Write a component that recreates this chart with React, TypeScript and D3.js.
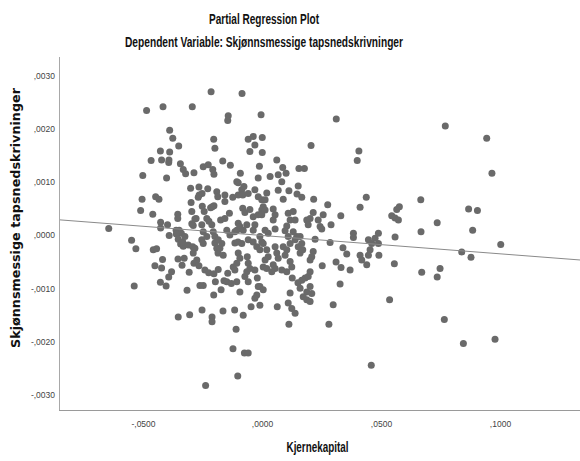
import React from "react";
import * as d3 from "d3";

// Partial regression residuals: Kjernekapital (x) vs Skjønnsmessige tapsnedskrivninger (y)
const kjernekapital: number[] = [
  -0.0646, -0.0550, -0.0532, -0.0539, -0.0512, -0.0506, -0.0503, -0.0487, -0.0468, -0.0461,
  -0.0459, -0.0445, -0.0452, -0.0449, -0.0435, -0.0429, -0.0424, -0.0428, -0.0428, -0.0420,
  -0.0424, -0.0429, -0.0418, -0.0405, -0.0403, -0.0399, -0.0394, -0.0392, -0.0390, -0.0390,
  -0.0393, -0.0394, -0.0382, -0.0377, -0.0363, -0.0350, -0.0341, -0.0362, -0.0356, -0.0356,
  -0.0354, -0.0352, -0.0345, -0.0355, -0.0329, -0.0338, -0.0354, -0.0344, -0.0333, -0.0333,
  -0.0323, -0.0335, -0.0326, -0.0312, -0.0317, -0.0308, -0.0306, -0.0302, -0.0300, -0.0297,
  -0.0297, -0.0295, -0.0293, -0.0284, -0.0291, -0.0276, -0.0288, -0.0288, -0.0284, -0.0291,
  -0.0279, -0.0267, -0.0266, -0.0254, -0.0270, -0.0267, -0.0263, -0.0249, -0.0254, -0.0255,
  -0.0249, -0.0255, -0.0249, -0.0253, -0.0245, -0.0249, -0.0228, -0.0230, -0.0242, -0.0226,
  -0.0239, -0.0234, -0.0225, -0.0234, -0.0218, -0.0216, -0.0213, -0.0209, -0.0204, -0.0211,
  -0.0204, -0.0212, -0.0212, -0.0205, -0.0200, -0.0205, -0.0207, -0.0200, -0.0204, -0.0198,
  -0.0200, -0.0192, -0.0187, -0.0186, -0.0192, -0.0188, -0.0186, -0.0176, -0.0171, -0.0179,
  -0.0165, -0.0174, -0.0167, -0.0166, -0.0162, -0.0150, -0.0158, -0.0158, -0.0158, -0.0146,
  -0.0144, -0.0146, -0.0139, -0.0137, -0.0131, -0.0135, -0.0125, -0.0123, -0.0124, -0.0116,
  -0.0116, -0.0117, -0.0108, -0.0111, -0.0108, -0.0108, -0.0102, -0.0104, -0.0102, -0.0108,
  -0.0116, -0.0103, -0.0102, -0.0102, -0.0095, -0.0095, -0.0095, -0.0093, -0.0087, -0.0087,
  -0.0086, -0.0083, -0.0078, -0.0081, -0.0083, -0.0081, -0.0076, -0.0060, -0.0074, -0.0074,
  -0.0066, -0.0066, -0.0064, -0.0060, -0.0053, -0.0060, -0.0060, -0.0060, -0.0060, -0.0053,
  -0.0053, -0.0039, -0.0039, -0.0032, -0.0032, -0.0048, -0.0039, -0.0039, -0.0032, -0.0032,
  -0.0024, -0.0022, -0.0018, -0.0024, -0.0032, -0.0011, -0.0018, -0.0018, -0.0013, -0.0018,
  -0.0011, -0.0003, -0.0003, 0.0003, -0.0003, -0.0001, -0.0001, -0.0006, 0.0011, 0.0024,
  -0.0011, 0.0003, 0.0018, 0.0024, 0.0011, 0.0003, 0.0018, -0.0011, 0.0003, 0.0018,
  0.0011, 0.0011, -0.0003, 0.0032, 0.0045, 0.0053, 0.0045, 0.0053, 0.0053, 0.0060,
  0.0066, 0.0045, 0.0053, 0.0039, 0.0060, 0.0062, 0.0066, 0.0066, 0.0081, 0.0085,
  0.0099, 0.0087, 0.0087, 0.0102, 0.0116, 0.0095, 0.0116, 0.0123, 0.0102, 0.0081,
  0.0102, 0.0095, 0.0108, 0.0108, 0.0129, 0.0116, 0.0137, 0.0111, 0.0125, 0.0116,
  0.0108, 0.0123, 0.0137, 0.0111, 0.0129, 0.0144, 0.0137, 0.0150, 0.0145, 0.0165,
  0.0153, 0.0176, 0.0150, 0.0158, 0.0169, 0.0158, 0.0165, 0.0165, 0.0149, 0.0158,
  0.0179, 0.0192, 0.0200, 0.0186, 0.0200, 0.0207, 0.0171, 0.0186, 0.0200, 0.0186,
  0.0200, 0.0192, 0.0213, 0.0234, 0.0242, 0.0255, 0.0249, 0.0204, 0.0215, 0.0213,
  0.0207, 0.0200, 0.0221, 0.0251, 0.0274, 0.0288, 0.0284, 0.0279, 0.0297, 0.0309,
  0.0330, 0.0310, 0.0329, 0.0326, 0.0338, 0.0354, 0.0368, 0.0382, 0.0382, 0.0398,
  0.0405, 0.0410, 0.0436, 0.0410, 0.0417, 0.0438, 0.0445, 0.0459, 0.0473, 0.0487,
  0.0487, 0.0452, 0.0445, 0.0489, 0.0457, 0.0534, 0.0543, 0.0557, 0.0571, 0.0575,
  0.0564, 0.0557, 0.0554, 0.0665, 0.0666, 0.0669, 0.0734, 0.0746, 0.0734, 0.0764,
  0.0768, 0.0837, 0.0844, 0.0866, 0.0903, 0.0883, 0.0876, 0.0942, 0.0964, 0.0977, 0.1001, -0.0150,
];

const tapsnedskrivninger: number[] = [
  0.00013, -0.00009, -0.00025, -0.00095, 0.00047, 0.00068, 0.00113, 0.00235, 0.00141, 0.00040,
  -0.00027, -0.00025, -0.00057, 0.00073, 0.00068, 0.00159, 0.00142, 0.00025, 0.00014, -0.00045,
  -0.00061, -0.00088, 0.00242, -0.00095, 0.00108, 0.00020, -0.00078, 0.00000, 0.00198, 0.00157,
  0.00142, 0.00137, -0.00068, 0.00183, 0.00010, 0.00010, 0.00004, 0.00003, 0.00040, 0.00032,
  -0.00007, 0.00168, 0.00135, -0.00044, -0.00043, -0.00056, -0.00153, -0.00016, -0.00020, 0.00124,
  0.00116, -0.00012, -0.00002, -0.00018, -0.00103, -0.00069, -0.00149, 0.00089, 0.00062, 0.00045,
  0.00022, 0.00242, -0.00021, -0.00024, -0.00033, -0.00046, -0.00052, 0.00118, 0.00031, 0.00019,
  0.00032, 0.00091, 0.00076, 0.00079, 0.00072, -0.00057, -0.00094, -0.00094, -0.00140, 0.00020,
  0.00007, -0.00008, -0.00015, 0.00055, 0.00045, 0.00129, 0.00133, 0.00088, -0.00065, -0.00070,
  -0.00282, 0.00032, 0.00027, -0.00002, 0.00052, 0.00270, 0.00020, 0.00124, 0.00115, 0.00054,
  0.00056, -0.00153, -0.00162, 0.00181, 0.00164, -0.00112, 0.00007, -0.00002, -0.00072, -0.00087,
  -0.00014, -0.00024, -0.00033, -0.00008, 0.00082, 0.00073, -0.00064, 0.00029, -0.00015, -0.00024,
  -0.00037, -0.00102, 0.00140, -0.00142, -0.00085, -0.00087, 0.00076, 0.00064, 0.00032, -0.00071,
  0.00225, 0.00216, 0.00042, 0.00001, -0.00090, 0.00132, 0.00072, -0.00059, -0.00213, 0.00007,
  -0.00065, -0.00140, -0.00052, -0.00176, -0.00087, 0.00101, 0.00099, -0.00264, 0.00023, 0.00010,
  -0.00014, -0.00012, 0.00076, -0.00033, -0.00043, 0.00017, -0.00106, 0.00117, 0.00086, -0.00015,
  0.00267, 0.00076, 0.00092, 0.00010, 0.00051, -0.00150, -0.00221, -0.00221, 0.00043, -0.00077,
  0.00020, -0.00068, -0.00040, -0.00052, -0.00062, -0.00087, -0.00008, 0.00079, 0.00181, 0.00158,
  0.00049, 0.00035, 0.00186, 0.00170, 0.00086, -0.00134, -0.00012, 0.00010, 0.00020, -0.00065,
  -0.00021, -0.00080, -0.00096, -0.00112, -0.00118, -0.00131, 0.00108, 0.00073, 0.00130, 0.00039,
  -0.00027, -0.00012, 0.00067, 0.00054, 0.00048, 0.00184, 0.00156, 0.00227, 0.00010, 0.00004,
  -0.00002, -0.00015, -0.00027, -0.00040, -0.00046, -0.00059, -0.00062, -0.00096, -0.00102, 0.00080,
  0.00067, 0.00048, 0.00039, 0.00111, 0.00050, 0.00039, 0.00029, 0.00012, -0.00021, -0.00033,
  -0.00043, -0.00055, -0.00062, -0.00068, 0.00142, -0.00134, 0.00114, 0.00085, 0.00101, 0.00128,
  0.00117, 0.00068, -0.00021, -0.00027, -0.00015, -0.00037, -0.00049, -0.00059, -0.00068, -0.00065,
  0.00018, 0.00009, -0.00002, 0.00042, 0.00045, 0.00029, 0.00029, 0.00084, -0.00080, -0.00108,
  -0.00127, -0.00137, -0.00146, -0.00167, 0.00007, -0.00002, -0.00008, 0.00093, 0.00078, 0.00072,
  0.00126, 0.00126, -0.00021, -0.00033, -0.00027, -0.00002, -0.00015, -0.00084, -0.00089, -0.00099,
  -0.00080, -0.00077, -0.00068, -0.00106, -0.00096, -0.00109, -0.00115, -0.00121, -0.00124, 0.00029,
  0.00032, 0.00020, 0.00043, 0.00029, 0.00017, 0.00039, 0.00012, 0.00169, 0.00068, -0.00030,
  -0.00040, -0.00046, -0.00007, -0.00057, 0.00058, 0.00020, -0.00013, -0.00167, -0.00130, -0.00050,
  -0.00060, 0.00219, 0.00037, -0.00091, -0.00023, -0.00035, -0.00065, 0.00004, -0.00004, 0.00141,
  0.00159, 0.00053, 0.00072, -0.00037, -0.00046, -0.00055, -0.00008, -0.00015, -0.00005, 0.00004,
  -0.00015, -0.00027, -0.00037, -0.00037, -0.00244, -0.00121, 0.00037, 0.00033, 0.00029, 0.00054,
  0.00049, -0.00003, -0.00053, 0.00067, 0.00007, -0.00069, 0.00024, -0.00062, -0.00078, -0.00158,
  0.00206, -0.00031, -0.00203, 0.00050, 0.00047, 0.00010, -0.00041, 0.00183, 0.00117, -0.00195, -0.00017, 0.00010,
];

const xTicks = [-0.05, 0, 0.05, 0.1];
const yTicks = [-0.003, -0.002, -0.001, 0, 0.001, 0.002, 0.003];

// Fitted partial regression line (residuals are centred, so it passes through the origin)
const fitSlope = -0.00345;
const fitIntercept = 0;

const xDomain: [number, number] = [-0.0855, 0.1334];
const yDomain: [number, number] = [-0.00328, 0.003355];

const W = 580;
const H = 461;
const frame = { left: 59, right: 580, top: 57, bottom: 410 };

// SPSS-style number labels: ",0030", "-,0010"
const spssFormat = (v: number) => {
  const body = d3.format(".4f")(Math.abs(v)).replace(/^0\./, ",");
  return (v < -1e-12 ? "-" : "") + body;
};

const titleFont = "'Liberation Sans Narrow', 'Liberation Sans', Arial, sans-serif";
const tickFont = "'Liberation Sans', Arial, sans-serif";

export default function App() {
  const x = d3.scaleLinear().domain(xDomain).range([frame.left, frame.right]);
  const y = d3.scaleLinear().domain(yDomain).range([frame.bottom, frame.top]);

  const points = kjernekapital.map((kx, i) => ({ kx, ty: tapsnedskrivninger[i] }));

  const fitLine = d3
    .line<number>()
    .x((d) => x(d))
    .y((d) => y(fitIntercept + fitSlope * d));

  return (
    <svg
      width={W}
      height={H}
      viewBox={`0 0 ${W} ${H}`}
      style={{ position: "absolute", left: 0, top: 0, background: "#fff" }}
    >
      <rect x={0} y={0} width={W} height={H} fill="#fff" />

      {/* titles */}
      <text
        x={264}
        y={24}
        textAnchor="middle"
        fontFamily={titleFont}
        fontWeight="bold"
        fontSize={14.5}
        fill="#111"
        textLength={110}
        lengthAdjust="spacingAndGlyphs"
      >
        Partial Regression Plot
      </text>
      <text
        x={264}
        y={47}
        textAnchor="middle"
        fontFamily={titleFont}
        fontWeight="bold"
        fontSize={14.5}
        fill="#111"
        textLength={278}
        lengthAdjust="spacingAndGlyphs"
      >
        Dependent Variable: Skjønnsmessige tapsnedskrivninger
      </text>

      {/* data points */}
      <g fill="#6a6a6a">
        {points.map((p, i) => (
          <circle key={i} cx={x(p.kx)} cy={y(p.ty)} r={3.5} />
        ))}
      </g>

      {/* fit line */}
      <path d={fitLine(xDomain) ?? ""} fill="none" stroke="#8a8a8a" strokeWidth={1} />

      {/* axes frame */}
      <line x1={frame.left + 0.5} x2={frame.left + 0.5} y1={frame.top} y2={frame.bottom} stroke="#a8a8a8" strokeWidth={1} />
      <line x1={frame.left} x2={frame.right} y1={frame.bottom + 0.5} y2={frame.bottom + 0.5} stroke="#9a9a9a" strokeWidth={1.2} />

      {/* y tick labels */}
      <g fontFamily={tickFont} fontSize={8.5} fill="#444" textAnchor="end">
        {yTicks.map((t) => (
          <text key={t} x={55} y={y(t) + 3}>
            {spssFormat(t)}
          </text>
        ))}
      </g>

      {/* x tick labels */}
      <g fontFamily={tickFont} fontSize={8.5} fill="#444" textAnchor="middle">
        {xTicks.map((t) => (
          <text key={t} x={x(t)} y={427}>
            {spssFormat(t)}
          </text>
        ))}
      </g>

      {/* axis titles */}
      <text
        x={317.5}
        y={451.5}
        textAnchor="middle"
        fontFamily={titleFont}
        fontWeight="bold"
        fontSize={14.5}
        fill="#111"
        textLength={62}
        lengthAdjust="spacingAndGlyphs"
      >
        Kjernekapital
      </text>
      <text
        transform={`translate(20, 218) rotate(-90)`}
        textAnchor="middle"
        fontFamily="'DejaVu Sans', Verdana, sans-serif"
        fontWeight="bold"
        fontSize={12}
        fill="#111"
        textLength={260}
        lengthAdjust="spacingAndGlyphs"
      >
        Skjønnsmessige tapsnedskrivninger
      </text>
    </svg>
  );
}
